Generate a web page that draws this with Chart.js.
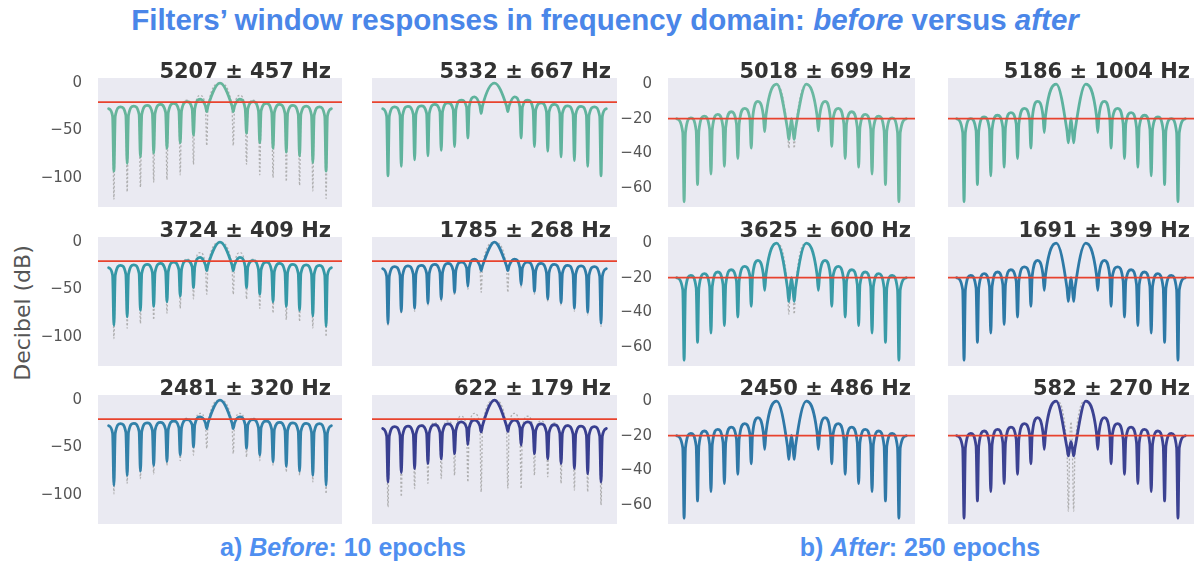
<!DOCTYPE html>
<html>
<head>
<meta charset="utf-8">
<script src="https://cdn.jsdelivr.net/npm/chart.js@4.4.1/dist/chart.umd.min.js"></script>
<style>
  body { margin: 0; width: 1195px; height: 565px; background: #fff; position: relative; overflow: hidden; }
  .main-title { position: absolute; left: 0; width: 1210px; top: 3px; text-align: center; line-height: 34px;
    font: bold 29.5px "Liberation Sans", Arial, sans-serif; color: #4a86e8; white-space: nowrap; }
  .sub { position: absolute; top: 533px; width: 400px; text-align: center; line-height: 30px;
    font: bold 25px "Liberation Sans", Arial, sans-serif; color: #4f8ff0; white-space: nowrap; }
  .ylab { position: absolute; left: 22px; top: 313px; transform: translate(-50%, -50%) rotate(-90deg);
    font: 22px "DejaVu Sans", sans-serif; color: #555; white-space: nowrap; }
  .ptitle { position: absolute; line-height: 21px; font: bold 21px "DejaVu Sans", sans-serif; color: #333; white-space: nowrap; }
  canvas { position: absolute; }
</style>
</head>
<body>
<div class="main-title">Filters’ window responses in frequency domain: <i>before</i> versus <i>after</i></div>
<div class="ylab">Decibel (dB)</div>
<div class="sub" style="left:143px">a) <i>Before</i>: 10 epochs</div>
<div class="sub" style="left:720px">b) <i>After</i>: 250 epochs</div>
<script>
// bin positions of nulls / lobe peaks / curve ends (main lobe centred on 0)
const beforeNullX = [-8, -7, -6, -5, -4, -3, -2, -1, 1, 2, 3, 4, 5, 6, 7, 8];
const beforePeakX = [-7.5, -6.5, -5.5, -4.5, -3.5, -2.5, -1.5, 0, 1.5, 2.5, 3.5, 4.5, 5.5, 6.5, 7.5];
const beforeEndX = [-8.4, 8.4];
const afterNullX = [-8, -7, -6, -5, -4, -3, -2, -0.2, 0.2, 2, 3, 4, 5, 6, 7, 8];
const afterPeakX = [-7.5, -6.5, -5.5, -4.5, -3.5, -2.5, -1.1, 0, 1.1, 2.5, 3.5, 4.5, 5.5, 6.5, 7.5];
const afterEndX = [-8.55, 8.55];

const beforeTicks = [0, -50, -100];
const afterTicks = [0, -20, -40, -60];
const threshold = -20;

// ---- before (10 epochs) ----
const nulls5207 = [-93, -85, -78, -74, -69, -63, -55, -30, -30, -53, -63, -69, -73, -77, -84, -93];
const gray5207 = [-123, -115, -110, -105, -102, -97, -86, -66, -66, -86, -97, -100, -104, -108, -114, -122];
const peaks5207 = [-25, -24.2, -23.5, -22.5, -21.4, -19.6, -17, 0, -17, -19.6, -21.4, -22.5, -23.5, -24.2, -25];
const grayPeaks5207 = [-25, -24.2, -23.5, -22.5, -21.4, -18, -13, 0, -13, -18, -21.4, -22.5, -23.5, -24.2, -25];
const cusps5207 = [-35, -34, -33, -32, -31, -29, -27, -24, -24, -27, -29, -31, -32, -33, -34, -35];
const ends5207 = [-27, -27];

const nulls5332 = [-98, -88, -81, -77, -71, -67, -58, -32, -30, -58, -67, -72, -78, -82, -88, -98];
const peaks5332 = [-25, -24.5, -24, -22.5, -20.7, -18, -14.4, 0, -14.4, -18, -20.7, -22.5, -24, -24.5, -25];
const cusps5332 = [-35, -34, -33, -32, -30, -28, -25, -24, -24, -25, -28, -30, -32, -33, -34, -35];
const ends5332 = [-27, -27];

const nulls3724 = [-88, -79, -72, -68, -63, -57, -48, -30, -30, -48, -55, -63, -68, -72, -78, -89];
const gray3724 = [-102, -91, -86, -82, -75, -70, -60, -55, -55, -60, -70, -75, -82, -84, -91, -100];
const peaks3724 = [-24.5, -24, -23.5, -22.5, -21, -19.5, -16, 0, -16, -19.5, -21, -22.5, -23.5, -24, -24.5];
const grayPeaks3724 = [-24.5, -24, -23.5, -22.5, -21, -18, -11, 0, -11, -18, -21, -22.5, -23.5, -24, -24.5];
const cusps3724 = [-35, -34, -33, -32, -31, -29, -26, -24, -24, -26, -29, -31, -32, -33, -34, -35];
const ends3724 = [-27, -27];

const nulls1785 = [-86, -73.5, -70, -64.5, -60, -53, -46.7, -30, -30, -45, -52, -60, -64, -70, -74, -86];
const gray1785 = [-89, -76, -73, -67, -63, -56, -50, -53, -53, -48, -55, -63, -67, -73, -77, -89];
const peaks1785 = [-25.8, -25, -24.5, -23.5, -22.5, -21, -18, 0, -18, -21, -22.5, -23.5, -24.5, -25, -25.8];
const cusps1785 = [-36, -35, -34, -33, -32, -30, -27, -25, -25, -27, -30, -32, -33, -34, -35, -36];
const ends1785 = [-28, -28];

const nulls2481 = [-90, -79.5, -75, -69, -64.7, -58, -49.5, -30, -30, -51, -58, -65, -70, -75, -79.5, -90];
const gray2481 = [-99, -88, -83, -78, -69, -64, -58, -51, -56.5, -60, -64, -69, -76, -79.5, -86.5, -99];
const peaks2481 = [-24.7, -24.5, -24, -23.5, -22, -20.5, -17.7, 0, -17.7, -20.5, -22, -23.5, -24, -24.5, -24.7];
const grayPeaks2481 = [-24.7, -24.5, -24, -23.5, -22, -19, -14, 0, -14, -19, -22, -23.5, -24, -24.5, -24.7];
const cusps2481 = [-35, -34, -33, -32, -31, -29, -26, -24, -24, -26, -29, -31, -32, -33, -34, -35];
const ends2481 = [-27, -27];

const nulls622 = [-86.6, -76.7, -72.4, -67, -62, -56.5, -47, -33.6, -33, -47.7, -56.5, -62, -67, -72.4, -77.7, -86.6];
const gray622 = [-113, -102, -93.6, -88, -83, -79.5, -86.6, -97, -93.6, -93.6, -79.5, -81, -88, -95, -97, -111];
const peaks622 = [-28, -27.5, -27, -26, -25, -23, -21, 0, -21, -23, -25, -26, -27, -27.5, -28];
const grayPeaks622 = [-28, -27, -26, -24, -22, -17, -14, 0, -14, -17, -22, -24, -26, -27, -28];
const cusps622 = [-38, -37, -36, -35, -34, -32, -29, -27, -27, -29, -32, -34, -35, -36, -37, -38];
const ends622 = [-30, -30];

// ---- after (250 epochs) ----
const nulls5018 = [-68, -58, -52, -47.5, -43, -37, -27.5, -32, -32, -27, -36, -43, -48, -52, -58, -68];
const gray5018 = [-68, -58, -52, -47.5, -43, -37, -27.5, -37, -37, -27, -36, -43, -48, -52, -58, -68];
const peaks5018 = [-19.5, -18.5, -17.5, -16, -14, -10, 0, -20, 0, -10, -14, -16, -17.5, -18.5, -19.5];
const cusps5018 = [-28, -27, -26, -25, -23, -20, -18, -26, -26, -18, -20, -23, -25, -26, -27, -28];
const ends5018 = [-20, -20];

const nulls5186 = [-68, -58, -53, -48, -43, -37, -28, -34, -34, -28, -37, -43, -48, -53, -58, -68];
const peaks5186 = [-20, -19, -18, -16.5, -14, -10, 0, -20, 0, -10, -14, -16.5, -18, -19, -20];
const cusps5186 = [-28, -27, -26, -25, -23, -20, -18, -27, -27, -18, -20, -23, -25, -26, -27, -28];
const ends5186 = [-20, -20];

const nulls3625 = [-67.7, -57.3, -52, -47.7, -42.7, -36.5, -27.3, -33.7, -33.7, -27.3, -36.5, -42.7, -47.7, -52, -57.3, -67.7];
const gray3625 = [-67.7, -57.3, -52, -47.7, -42.7, -36.5, -27.3, -41, -41, -27.3, -36.5, -42.7, -47.7, -52, -57.3, -67.7];
const peaks3625 = [-18.7, -17.7, -16.7, -15.4, -13.5, -10, 0, -20, 0, -10, -13.5, -15.4, -16.7, -17.7, -18.7];
const cusps3625 = [-27, -26, -25, -24, -22, -19, -18, -26, -26, -18, -19, -22, -24, -25, -26, -27];
const ends3625 = [-20, -20];

const nulls1691 = [-67.7, -57.3, -52, -47, -42.7, -36.5, -27.3, -33.7, -33.7, -27.3, -36.5, -42.7, -47.7, -52, -57.3, -67.7];
const peaks1691 = [-18.7, -17.7, -16.7, -15.4, -13.7, -10, 0, -20, 0, -10, -13.7, -15.4, -16.7, -17.7, -18.7];
const cusps1691 = [-27, -26, -25, -24, -22, -19, -18, -26, -26, -18, -19, -22, -24, -25, -26, -27];
const ends1691 = [-20, -20];

const nulls2450 = [-67.7, -57.7, -52.3, -47.7, -42.3, -36.2, -27.9, -33.7, -33.7, -27.9, -36.2, -42.3, -47.7, -52.3, -57.7, -67.7];
const peaks2450 = [-18.7, -17.3, -16.3, -15, -13, -9.6, 0, -19.8, 0, -9.6, -13, -15, -16.3, -17.3, -18.7];
const cusps2450 = [-27, -26, -25, -24, -22, -19, -18, -26, -26, -18, -19, -22, -24, -25, -26, -27];
const ends2450 = [-20, -20];

const nulls582 = [-67.7, -57.7, -52.3, -47.7, -42.3, -36.2, -27.9, -31.7, -31.7, -27.9, -36.2, -42.3, -47.7, -52.3, -57.7, -67.7];
const gray582 = [-67.7, -57.7, -52.3, -47.7, -42.3, -36.2, -27.9, -63.5, -63.5, -27.9, -36.2, -42.3, -47.7, -52.3, -57.7, -67.7];
const peaks582 = [-18.7, -17.3, -16.3, -15, -13, -9.6, 0, -23.5, 0, -9.6, -13, -15, -16.3, -17.3, -18.7];
const grayPeaks582 = [-18.7, -17.3, -16.3, -15, -13, -9.6, 0, -12, 0, -9.6, -13, -15, -16.3, -17.3, -18.7];
const cusps582 = [-27, -26, -25, -24, -22, -19, -18, -27, -27, -18, -19, -22, -24, -25, -26, -27];
const ends582 = [-20, -20];

// panels in reading order (3 rows x 4 columns)
const panels = [
  { title: '5207 ± 457 Hz', kind: 'before', color: '#66b59b', nulls: nulls5207, peaks: peaks5207, cusps: cusps5207, ends: ends5207, gray: gray5207, grayPeaks: grayPeaks5207 },
  { title: '5332 ± 667 Hz', kind: 'before', color: '#5fb39d', nulls: nulls5332, peaks: peaks5332, cusps: cusps5332, ends: ends5332 },
  { title: '5018 ± 699 Hz', kind: 'after', color: '#6ab8a1', nulls: nulls5018, peaks: peaks5018, cusps: cusps5018, ends: ends5018, gray: gray5018 },
  { title: '5186 ± 1004 Hz', kind: 'after', color: '#5db29f', nulls: nulls5186, peaks: peaks5186, cusps: cusps5186, ends: ends5186 },
  { title: '3724 ± 409 Hz', kind: 'before', color: '#3598a6', nulls: nulls3724, peaks: peaks3724, cusps: cusps3724, ends: ends3724, gray: gray3724, grayPeaks: grayPeaks3724 },
  { title: '1785 ± 268 Hz', kind: 'before', color: '#2e7ca7', nulls: nulls1785, peaks: peaks1785, cusps: cusps1785, ends: ends1785, gray: gray1785 },
  { title: '3625 ± 600 Hz', kind: 'after', color: '#399ba7', nulls: nulls3625, peaks: peaks3625, cusps: cusps3625, ends: ends3625, gray: gray3625 },
  { title: '1691 ± 399 Hz', kind: 'after', color: '#2d79a6', nulls: nulls1691, peaks: peaks1691, cusps: cusps1691, ends: ends1691 },
  { title: '2481 ± 320 Hz', kind: 'before', color: '#3281a9', nulls: nulls2481, peaks: peaks2481, cusps: cusps2481, ends: ends2481, gray: gray2481, grayPeaks: grayPeaks2481 },
  { title: '622 ± 179 Hz', kind: 'before', color: '#393f90', nulls: nulls622, peaks: peaks622, cusps: cusps622, ends: ends622, gray: gray622, grayPeaks: grayPeaks622 },
  { title: '2450 ± 486 Hz', kind: 'after', color: '#2f78a7', nulls: nulls2450, peaks: peaks2450, cusps: cusps2450, ends: ends2450 },
  { title: '582 ± 270 Hz', kind: 'after', color: '#3c4292', nulls: nulls582, peaks: peaks582, cusps: cusps582, ends: ends582, gray: gray582, grayPeaks: grayPeaks582 }
];

// layout of the plot areas
const colLeft = [98, 372, 668, 948];
const colWidth = [244, 245, 247, 246];
const colShowsTicks = [true, false, true, false];
const rowTop = [78, 237, 395];
const plotH = 129;
const titleRight = [331, 611, 911, 1190];
const AXIS_W = 70;
const PAD = 10;
const CUSP = 0.1; // half-width of each null spike, in bins

function buildCurve(nullX, peakX, endX, ends, nulls, peaks, cusps) {
  const pts = [{ x: endX[0], y: ends[0] }];
  nullX.forEach((x, i) => {
    pts.push({ x: x - CUSP, y: cusps[i] }, { x: x, y: nulls[i] }, { x: x + CUSP, y: cusps[i] });
    if (i < peakX.length) pts.push({ x: peakX[i], y: peaks[i] });
  });
  pts.push({ x: endX[1], y: ends[1] });
  return pts;
}

const plotBg = {
  id: 'plotBg',
  beforeDraw(chart) {
    const { ctx, chartArea: a } = chart;
    ctx.save();
    ctx.fillStyle = '#eaeaf2';
    ctx.fillRect(a.left, a.top, a.right - a.left, a.bottom - a.top);
    ctx.restore();
  }
};

panels.forEach((p, i) => {
  const row = Math.floor(i / 4), col = i % 4;
  const before = p.kind === 'before';
  const nullX = before ? beforeNullX : afterNullX;
  const peakX = before ? beforePeakX : afterPeakX;
  const endX = before ? beforeEndX : afterEndX;
  const ticks = before ? beforeTicks : afterTicks;

  const canvas = document.createElement('canvas');
  canvas.width = colWidth[col] + AXIS_W + 2;
  canvas.height = plotH + 2 * PAD;
  canvas.style.left = (colLeft[col] - AXIS_W) + 'px';
  canvas.style.top = (rowTop[row] - PAD) + 'px';
  document.body.appendChild(canvas);

  const t = document.createElement('div');
  t.className = 'ptitle';
  t.textContent = p.title;
  t.style.right = (1195 - titleRight[col]) + 'px';
  t.style.top = (rowTop[row] - 19) + 'px';
  document.body.appendChild(t);

  const datasets = [
    { data: [{ x: -9.2, y: threshold }, { x: 9.2, y: threshold }], borderColor: '#e8432e', borderWidth: 1.8, pointRadius: 0 },
    { data: buildCurve(nullX, peakX, endX, p.ends, p.nulls, p.peaks, p.cusps), borderColor: p.color, borderWidth: 2.8,
      pointRadius: 0, cubicInterpolationMode: 'monotone', borderJoinStyle: 'round', borderCapStyle: 'round' }
  ];
  if (p.gray) {
    datasets.push({ data: buildCurve(nullX, peakX, endX, p.ends, p.gray, p.grayPeaks || p.peaks, p.cusps),
      borderColor: 'rgba(165,165,165,0.85)', borderWidth: 1.3, borderDash: [2, 2], pointRadius: 0,
      cubicInterpolationMode: 'monotone' });
  }

  new Chart(canvas, {
    type: 'line',
    data: { datasets },
    options: {
      responsive: false,
      animation: false,
      devicePixelRatio: 1,
      layout: { padding: { top: PAD, bottom: PAD, left: 0, right: 2 } },
      plugins: { legend: { display: false }, tooltip: { enabled: false } },
      scales: {
        x: { type: 'linear', min: -9.2, max: 9.2, display: false },
        y: {
          min: before ? -131 : -71,
          max: before ? 5.5 : 3.5,
          grid: { display: false, drawTicks: false },
          border: { display: false },
          afterBuildTicks: axis => { axis.ticks = ticks.map(v => ({ value: v })); },
          afterFit: axis => { axis.width = AXIS_W; axis.paddingTop = 0; axis.paddingBottom = 0; },
          ticks: {
            display: colShowsTicks[col],
            padding: 16,
            color: '#555',
            font: { family: 'DejaVu Sans', size: 15 },
            callback: v => (v < 0 ? '\u2212' + (-v) : String(v))
          }
        }
      }
    },
    plugins: [plotBg]
  });
});
</script>
</body>
</html>
